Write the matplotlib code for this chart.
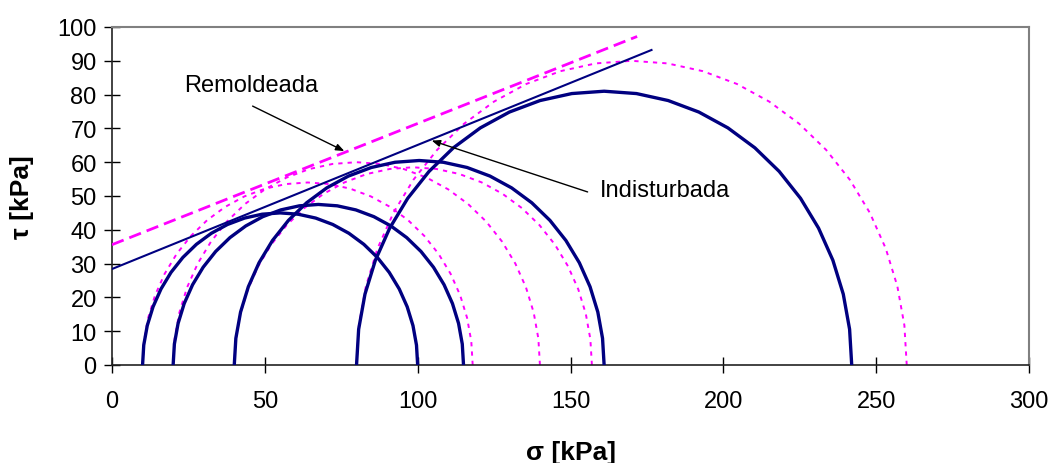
import numpy as np
import matplotlib
matplotlib.use("Agg")
import matplotlib.pyplot as plt

plt.rcParams['font.family'] = ['Liberation Sans', 'DejaVu Sans']

# Mohr circles: minor / major principal stresses [kPa]
indist_s3 = [10, 20, 40, 80]
indist_s1 = [100, 115, 161, 242]
remol_s3 = [10, 20, 40, 80]
remol_s1 = [118, 140, 157, 260]

# Failure envelopes (start/end points)
env_indist_x = [0, 176.5]
env_indist_y = [28.4, 93.2]
env_remol_x = [0, 171.8]
env_remol_y = [35.6, 97.2]

x_ticks = [0, 50, 100, 150, 200, 250, 300]
y_ticks = [0, 10, 20, 30, 40, 50, 60, 70, 80, 90, 100]

NAVY = '#000080'
MAG = '#FF00FF'

fig = plt.figure(figsize=(10.53, 4.64), dpi=100)
ax = fig.add_axes([112/1053, 1-366/464, (1029-112)/1053, (366-28)/464])

theta = np.linspace(0, np.pi, 25)

def circle(s3, s1):
    c = (s1 + s3) / 2.0
    r = (s1 - s3) / 2.0
    return c + r*np.cos(theta), r*np.sin(theta)

for s3, s1 in zip(remol_s3, remol_s1):
    x, y = circle(s3, s1)
    ax.plot(x, y, color=MAG, lw=1.4, linestyle=(0, (2.2, 2.6)), zorder=2)

for s3, s1 in zip(indist_s3, indist_s1):
    x, y = circle(s3, s1)
    ax.plot(x, y, color=NAVY, lw=2.4, zorder=3, solid_joinstyle='round')

ax.plot(env_remol_x, env_remol_y, color=MAG, lw=2.0, linestyle=(0, (4.5, 2.2)), zorder=4)
ax.plot(env_indist_x, env_indist_y, color=NAVY, lw=1.5, zorder=4)

arrow = dict(arrowstyle='-|>,head_length=0.5,head_width=0.2',
             color='black', lw=1.0, shrinkA=0, shrinkB=0)

ax.text(23.5, 82.7, 'Remoldeada', fontsize=17, ha='left', va='center')
ax.annotate('', xy=(76, 63.3), xytext=(46, 76.6), arrowprops=arrow)

ax.text(159.5, 51.8, 'Indisturbada', fontsize=17, ha='left', va='center')
ax.annotate('', xy=(104.6, 66.4), xytext=(155.6, 51.2), arrowprops=arrow)

ax.set_xlim(0, 300)
ax.set_ylim(0, 100)
ax.set_xticks(x_ticks)
ax.set_yticks(y_ticks)
ax.tick_params(direction='inout', length=12, width=1.0, labelsize=17, colors='black')
ax.tick_params(axis='x', pad=12)
ax.tick_params(axis='y', pad=5)

for side in ['top', 'right']:
    ax.spines[side].set_color('#808080')
    ax.spines[side].set_linewidth(1.5)
for side in ['left', 'bottom']:
    ax.spines[side].set_color('#222222')
    ax.spines[side].set_linewidth(1.2)

ax.set_xlabel('σ [kPa]', fontsize=19, fontweight='bold', labelpad=20)
ax.set_ylabel('τ [kPa]', fontsize=19, fontweight='bold', labelpad=17)

fig.savefig('out.png', dpi=100)
